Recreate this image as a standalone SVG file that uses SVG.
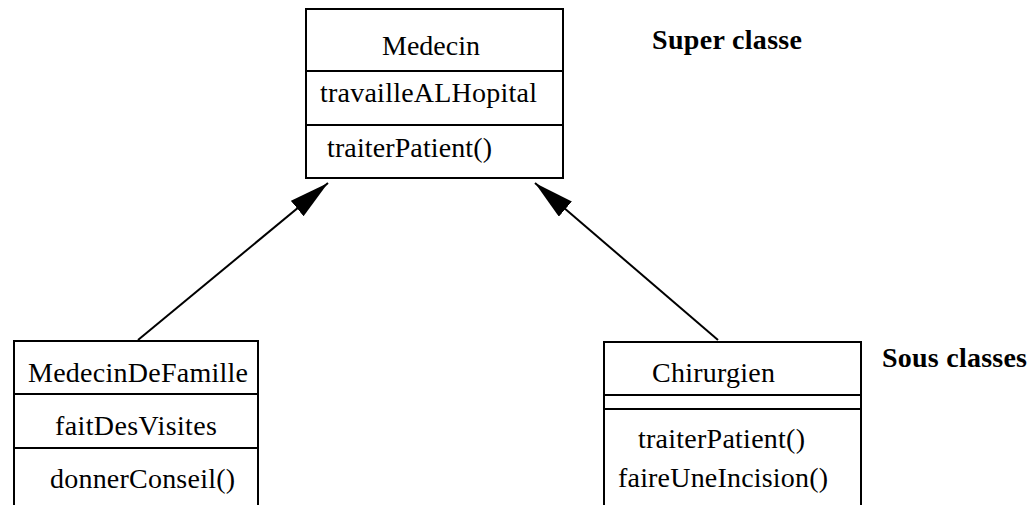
<svg xmlns="http://www.w3.org/2000/svg" width="1033" height="505" viewBox="0 0 1033 505">
<style>
.box{fill:#fff;stroke:#000;stroke-width:2}
.div{stroke:#000;stroke-width:2}
.conn{stroke:#000;stroke-width:2;fill:none}
</style>
<defs>
<marker id="tri" markerUnits="userSpaceOnUse" markerWidth="41" markerHeight="22" refX="40" refY="10" orient="auto">
<path d="M0,0 L40,10 L0,20 z" fill="#000"/>
</marker>
</defs>
<rect width="1033" height="505" fill="#fff"/>
<g id="connectors">
<line class="conn" x1="138" y1="340" x2="328" y2="183" marker-end="url(#tri)"/>
<line class="conn" x1="718" y1="340" x2="535" y2="183" marker-end="url(#tri)"/>
</g>
<g font-family="Liberation Serif, Times New Roman, serif" font-size="28" fill="#000">
<g id="medecin">
<rect class="box" x="306" y="9" width="257" height="169"/>
<line class="div" x1="306" y1="71" x2="563" y2="71"/>
<line class="div" x1="306" y1="125" x2="563" y2="125"/>
<text x="431" y="55" text-anchor="middle">Medecin</text>
<text x="320" y="102" textLength="217">travailleALHopital</text>
<text x="327" y="157" textLength="165">traiterPatient()</text>
</g>
<g id="medecinDeFamille">
<rect class="box" x="14" y="341" width="244" height="180"/>
<line class="div" x1="14" y1="394" x2="258" y2="394"/>
<line class="div" x1="14" y1="448" x2="258" y2="448"/>
<text x="28" y="382" textLength="220">MedecinDeFamille</text>
<text x="55" y="435" textLength="162">faitDesVisites</text>
<text x="50" y="488" textLength="185">donnerConseil()</text>
</g>
<g id="chirurgien">
<rect class="box" x="604" y="342" width="257" height="180"/>
<line class="div" x1="604" y1="395" x2="861" y2="395"/>
<line class="div" x1="604" y1="409" x2="861" y2="409"/>
<text x="652" y="382" textLength="123">Chirurgien</text>
<text x="638" y="448" textLength="167">traiterPatient()</text>
<text x="618" y="487" textLength="210">faireUneIncision()</text>
</g>
<g id="labels" font-weight="bold">
<text x="652" y="49" textLength="150">Super classe</text>
<text x="882" y="367" textLength="145">Sous classes</text>
</g>
</g>
</svg>
